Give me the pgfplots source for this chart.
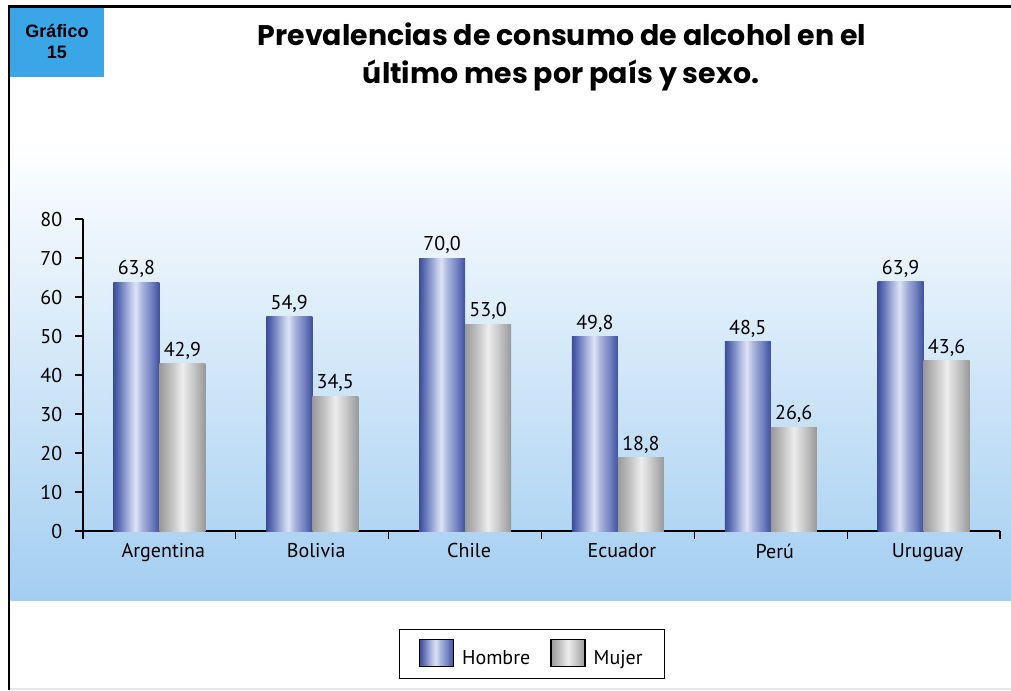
\documentclass[border=0pt]{standalone}
\usepackage{fontspec}
\setmainfont{PT Sans}
\newfontfamily\titlefont{Poppins}
\newfontfamily\arialfont{Liberation Sans}
\usepackage{pgfplots}
\usepackage{pgfplotstable}
\pgfplotsset{compat=1.18}

\definecolor{bgblue}{HTML}{A3CEF1}
\definecolor{boxblue}{HTML}{3AA6E8}
% bar shades, dark edges and a light band in the middle
\definecolor{hA}{HTML}{3A4C9B}
\definecolor{hB}{HTML}{6676B9}
\definecolor{hC}{HTML}{B6C0E4}
\definecolor{hD}{HTML}{DCE3F4}
\definecolor{hE}{HTML}{A8B3DC}
\definecolor{hF}{HTML}{6E7DBE}
\definecolor{hG}{HTML}{3E51A0}
\definecolor{mA}{HTML}{999999}
\definecolor{mB}{HTML}{C2C2C2}
\definecolor{mC}{HTML}{EDEDED}
\definecolor{mD}{HTML}{C6C6C6}
\definecolor{mE}{HTML}{989898}

\pgfdeclarehorizontalshading{hombre}{100bp}{color(0bp)=(hA); color(25bp)=(hA);
  color(32bp)=(hB); color(43bp)=(hC); color(49bp)=(hD); color(56bp)=(hE);
  color(67bp)=(hF); color(75bp)=(hG); color(100bp)=(hG)}
\pgfdeclarehorizontalshading{mujer}{100bp}{color(0bp)=(mA); color(25bp)=(mA);
  color(38bp)=(mB); color(50bp)=(mC); color(62bp)=(mD); color(75bp)=(mE);
  color(100bp)=(mE)}

\pgfplotstableread{
x hombre mujer
0 63.8 42.9
1 54.9 34.5
2 70.0 53.0
3 49.8 18.8
4 48.5 26.6
5 63.9 43.6
}\datos

\newcommand{\lbl}{\fontsize{15}{17}\selectfont}

\begin{document}
\begin{tikzpicture}
\begin{scope}[x=0.75pt, y=-0.75pt]
  \path[use as bounding box] (0,0) rectangle (1011,690);
  \shade[top color=white, bottom color=bgblue] (10,140) rectangle (1011,600);
  \fill[boxblue] (10,8) rectangle (104,77);
  \node[font=\arialfont\bfseries\fontsize{13.5}{15}\selectfont, anchor=base] at (57,37) {Gráfico};
  \node[font=\arialfont\bfseries\fontsize{13.5}{15}\selectfont, anchor=base] at (57,58) {15};
  \node[font=\titlefont\bfseries\fontsize{21.3}{24}\selectfont, anchor=base] at (562,45) {Prevalencias de consumo de alcohol en el};
  \node[font=\titlefont\bfseries\fontsize{21.3}{24}\selectfont, anchor=base] at (561,83) {último mes por país y sexo.};
  \draw[line width=2.2pt] (9,690) -- (9,6.5) -- (1011,6.5);
  \draw[black!10, line width=1pt] (10,689) -- (1011,689);
\end{scope}

\begin{axis}[
  at={(62.25pt,-398.25pt)}, anchor=south west,
  scale only axis, width=687.75pt, height=234pt,
  enlargelimits=false,
  ymin=0, ymax=80, ytick={0,10,...,80},
  xmin=-0.5, xmax=5.5,
  xtick={0,...,5},
  xticklabels={Argentina,Bolivia,Chile,Ecuador,Perú,Uruguay},
  minor xtick={-0.5,0.5,...,5.5},
  major x tick style={draw=none},
  axis lines=left,
  axis line style={-, line width=1.1pt},
  tick style={black, line width=0.9pt},
  tick align=outside,
  major tick length=6pt, minor tick length=6pt,
  tick label style={font=\lbl},
  yticklabel style={xshift=-6pt},
  xticklabel style={xshift=3pt},
  /pgf/number format/assume math mode=true,
  bar width=34.5pt,
  nodes near coords,
  legend columns=2,
  legend style={at={(0.4896,-0.394)}, anchor=center, draw=black, line width=1.1pt,
    font=\lbl, inner xsep=14.5pt, inner ysep=7pt,
    /tikz/every odd column/.append style={column sep=4pt},
    /tikz/every even column/.append style={column sep=13pt}},
]
% one path per bar, so that each bar gets its own shading
\pgfplotsinvokeforeach{0,...,5}{
  \addplot[ybar, bar shift=-17.25pt, draw=none, shade, shading=hombre, forget plot,
    restrict x to domain=#1:#1,
    nodes near coords style={font=\lbl, text=black, anchor=south, xshift=-17.25pt,
      /pgf/number format/.cd, fixed, fixed zerofill, precision=1, use comma}]
    table[x=x, y=hombre] {\datos};
  \addplot[ybar, bar shift=17.25pt, draw=none, shade, shading=mujer, forget plot,
    restrict x to domain=#1:#1,
    nodes near coords style={font=\lbl, text=black, anchor=south, xshift=17.25pt,
      /pgf/number format/.cd, fixed, fixed zerofill, precision=1, use comma}]
    table[x=x, y=mujer] {\datos};
}
\addlegendimage{legend image code/.code={\path[shade, shading=hombre] (0pt,-6pt) rectangle (25.5pt,14pt);}}
\addlegendentry{Hombre}
\addlegendimage{legend image code/.code={\path[shade, shading=mujer] (0pt,-6pt) rectangle (25.5pt,14pt);}}
\addlegendentry{Mujer}
\end{axis}
\end{tikzpicture}
\end{document}
